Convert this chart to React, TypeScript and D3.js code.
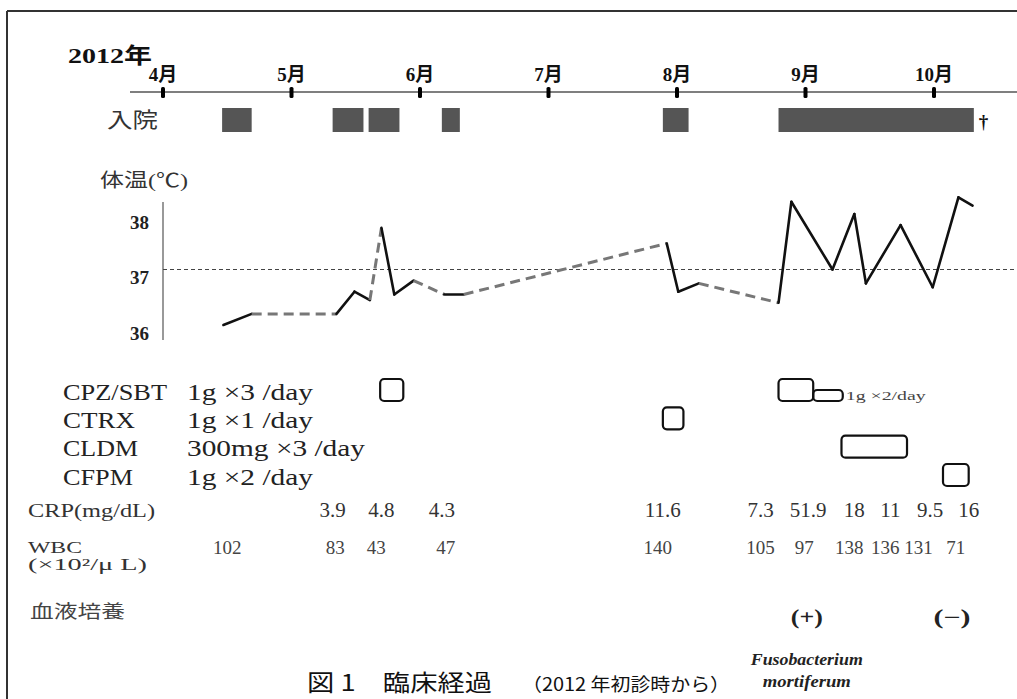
import React from "react";
import * as d3 from "d3";

// ---- data ----
const months = [4, 5, 6, 7, 8, 9, 10];
const monthLabels = ["4月", "5月", "6月", "7月", "8月", "9月", "10月"];

// admissions (fractional month positions)
const admissionStarts = [4.46, 5.32, 5.6, 6.17, 7.89, 8.79];
const admissionEnds = [4.69, 5.56, 5.84, 6.31, 8.09, 10.31];

// body temperature
const tempTicks = [36, 37, 38];
const tempDates = [4.47, 4.69, 5.35, 5.49, 5.61, 5.7, 5.8, 5.95, 6.19, 6.34, 7.92, 8.01, 8.17, 8.79, 8.89, 9.21, 9.38, 9.47, 9.74, 9.99, 10.19, 10.3];
const tempValues = [36.0, 36.2, 36.2, 36.6, 36.45, 37.75, 36.55, 36.8, 36.55, 36.55, 37.47, 36.6, 36.75, 36.4, 38.22, 37.0, 38.0, 36.75, 37.8, 36.68, 38.3, 38.15];
// style of each segment between consecutive points: "s" measured (solid), "d" interpolated (dashed)
const tempSegments = ["s", "d", "s", "s", "d", "s", "s", "d", "s", "d", "s", "s", "d", "s", "s", "s", "s", "s", "s", "s", "s"];

// antibiotics
const drugNames = ["CPZ/SBT", "CTRX", "CLDM", "CFPM"];
const drugDoses = ["1g ×3 /day", "1g ×1 /day", "300mg ×3 /day", "1g ×2 /day"];
const courseDrug = ["CPZ/SBT", "CPZ/SBT", "CPZ/SBT", "CTRX", "CLDM", "CFPM"];
const courseStart = [5.69, 8.79, 9.06, 7.89, 9.28, 10.07];
const courseEnd = [5.87, 9.06, 9.29, 8.05, 9.79, 10.27];
const courseHalf = [false, false, true, false, false, false];

// labs
const crpDates = [5.32, 5.7, 6.17, 7.89, 8.65, 9.02, 9.38, 9.66, 9.97, 10.27];
const crpValues = ["3.9", "4.8", "4.3", "11.6", "7.3", "51.9", "18", "11", "9.5", "16"];
const wbcDates = [4.5, 5.34, 5.66, 6.2, 7.85, 8.65, 8.99, 9.34, 9.62, 9.88, 10.17];
const wbcValues = ["102", "83", "43", "47", "140", "105", "97", "138", "136", "131", "71"];
const cultureDates = [9.01, 10.14];
const cultureResults = ["(+)", "(−)"];

const W = 1017;
const H = 699;
const SERIF = "'Liberation Serif', 'Times New Roman', 'Noto Sans CJK JP', serif";
const SANS = "'Noto Sans CJK JP', 'Noto Sans', sans-serif";

export default function App() {
  const x = d3.scaleLinear().domain([4, 10]).range([163, 934]);
  const yT = d3.scaleLinear().domain([36, 38]).range([325, 214]);
  const yDrug = d3.scalePoint<string>().domain(drugNames).range([390, 475]);
  const line = d3.line<[number, number]>().x((d) => x(d[0])).y((d) => yT(d[1]));

  const drugNameLen = [104, 72, 75, 70];
  const drugDoseLen = [126, 126, 178, 126];
  const cultureLen = [32, 37];

  return (
    <svg width={W} height={H} style={{ position: "absolute", left: 0, top: 0, background: "#fff" }}>
      {/* frame */}
      <line x1={7} y1={11} x2={W} y2={11} stroke="#333" strokeWidth={2} />
      <line x1={7} y1={11} x2={7} y2={H} stroke="#333" strokeWidth={2} />

      {/* year + month axis */}
      <text x={68} y={55} fontFamily={SERIF} fontWeight="bold" fontSize={22} dominantBaseline="central" textLength={84} lengthAdjust="spacingAndGlyphs" fill="#111">2012年</text>
      <line x1={130} y1={92} x2={W} y2={92} stroke="#555" strokeWidth={1.5} />
      {months.map((m, i) => (
        <g key={m}>
          <rect x={x(m) - 2} y={87} width={4} height={11} rx={1.5} fill="#000" />
          <text x={x(m)} y={74} textAnchor="middle" dominantBaseline="central" fontFamily={SERIF} fontWeight="bold" fontSize={19} fill="#111">{monthLabels[i]}</text>
        </g>
      ))}

      {/* admissions */}
      <text x={107} y={120} fontFamily={SERIF} fontSize={21} dominantBaseline="central" textLength={51} lengthAdjust="spacingAndGlyphs" fill="#333">入院</text>
      {admissionStarts.map((s, i) => (
        <rect key={i} x={x(s)} y={108} width={x(admissionEnds[i]) - x(s)} height={24} fill="#555" />
      ))}
      <text x={x(admissionEnds[5]) + 5} y={121} fontFamily={SERIF} fontWeight="bold" fontSize={19} dominantBaseline="central" fill="#111">†</text>

      {/* temperature */}
      <text x={100} y={180} fontFamily={SERIF} fontSize={19} dominantBaseline="central" textLength={88} lengthAdjust="spacingAndGlyphs" fill="#333">体温(℃)</text>
      <line x1={163} y1={202} x2={163} y2={340} stroke="#999" strokeWidth={2} />
      {tempTicks.map((t) => (
        <text key={t} x={149} y={yT(t) + 8} textAnchor="end" dominantBaseline="central" fontFamily={SERIF} fontWeight="bold" fontSize={19} fill="#222">{t}</text>
      ))}
      <line x1={163} y1={yT(37)} x2={W} y2={yT(37)} stroke="#444" strokeWidth={1} strokeDasharray="4 3" />
      {tempSegments.map((st, i) => {
        const pts: [number, number][] = [
          [tempDates[i], tempValues[i]],
          [tempDates[i + 1], tempValues[i + 1]],
        ];
        return st === "s" ? (
          <path key={i} d={line(pts) || ""} fill="none" stroke="#111" strokeWidth={2.6} strokeLinecap="round" strokeLinejoin="round" />
        ) : (
          <path key={i} d={line(pts) || ""} fill="none" stroke="#777" strokeWidth={3} strokeDasharray="10 6" />
        );
      })}

      {/* antibiotics */}
      {drugNames.map((d, i) => (
        <g key={d}>
          <text x={63} y={(yDrug(d) as number) + 2} fontFamily={SERIF} fontSize={23} dominantBaseline="central" textLength={drugNameLen[i]} lengthAdjust="spacingAndGlyphs" fill="#222">{d}</text>
          <text x={187} y={(yDrug(d) as number) + 2} fontFamily={SERIF} fontSize={23} dominantBaseline="central" textLength={drugDoseLen[i]} lengthAdjust="spacingAndGlyphs" fill="#222">{drugDoses[i]}</text>
        </g>
      ))}
      {courseDrug.map((d, i) => {
        const cy = yDrug(d) as number;
        const h = courseHalf[i] ? 11 : 22;
        const y0 = courseHalf[i] ? cy + 11 - h : cy - 11;
        return (
          <rect key={i} x={x(courseStart[i])} y={y0} width={x(courseEnd[i]) - x(courseStart[i])} height={h} rx={4} fill="none" stroke="#111" strokeWidth={2.2} />
        );
      })}
      <text x={x(courseEnd[2]) + 3} y={(yDrug("CPZ/SBT") as number) + 6} fontFamily={SERIF} fontSize={12} dominantBaseline="central" textLength={80} lengthAdjust="spacingAndGlyphs" fill="#444">1g ×2/day</text>

      {/* CRP */}
      <text x={28} y={510} fontFamily={SERIF} fontSize={19} dominantBaseline="central" textLength={127} lengthAdjust="spacingAndGlyphs" fill="#333">CRP(mg/dL)</text>
      {crpValues.map((v, i) => (
        <text key={i} x={x(crpDates[i])} y={510} textAnchor="middle" dominantBaseline="central" fontFamily={SERIF} fontSize={21} fill="#333">{v}</text>
      ))}

      {/* WBC */}
      <text x={28} y={547} fontFamily={SERIF} fontSize={17} dominantBaseline="central" textLength={54} lengthAdjust="spacingAndGlyphs" fill="#333">WBC</text>
      <text x={28} y={564} fontFamily={SERIF} fontSize={16} dominantBaseline="central" textLength={119} lengthAdjust="spacingAndGlyphs" fill="#333">(×10²/μ L)</text>
      {wbcValues.map((v, i) => (
        <text key={i} x={x(wbcDates[i])} y={547} textAnchor="middle" dominantBaseline="central" fontFamily={SERIF} fontSize={19} fill="#444">{v}</text>
      ))}

      {/* blood culture */}
      <text x={30} y={612} fontFamily={SERIF} fontSize={18} dominantBaseline="central" textLength={95} lengthAdjust="spacingAndGlyphs" fill="#444">血液培養</text>
      {cultureResults.map((r, i) => (
        <text key={i} x={x(cultureDates[i])} y={617} textAnchor="middle" dominantBaseline="central" fontFamily={SERIF} fontWeight="bold" fontSize={20} textLength={cultureLen[i]} lengthAdjust="spacingAndGlyphs" fill="#222">{r}</text>
      ))}
      <text x={x(cultureDates[0])} y={659} textAnchor="middle" dominantBaseline="central" fontFamily={SERIF} fontWeight="bold" fontStyle="italic" fontSize={16} textLength={112} lengthAdjust="spacingAndGlyphs" fill="#222">Fusobacterium</text>
      <text x={x(cultureDates[0])} y={681} textAnchor="middle" dominantBaseline="central" fontFamily={SERIF} fontWeight="bold" fontStyle="italic" fontSize={16} textLength={88} lengthAdjust="spacingAndGlyphs" fill="#222">mortiferum</text>

      {/* caption */}
      <text x={307} y={681} fontFamily={SANS} fontSize={23} dominantBaseline="central" textLength={185} lengthAdjust="spacingAndGlyphs" fill="#111">図 1　臨床経過</text>
      <text x={522} y={683} fontFamily={SANS} fontSize={18} dominantBaseline="central" textLength={208} lengthAdjust="spacingAndGlyphs" fill="#111">（2012 年初診時から）</text>
    </svg>
  );
}
